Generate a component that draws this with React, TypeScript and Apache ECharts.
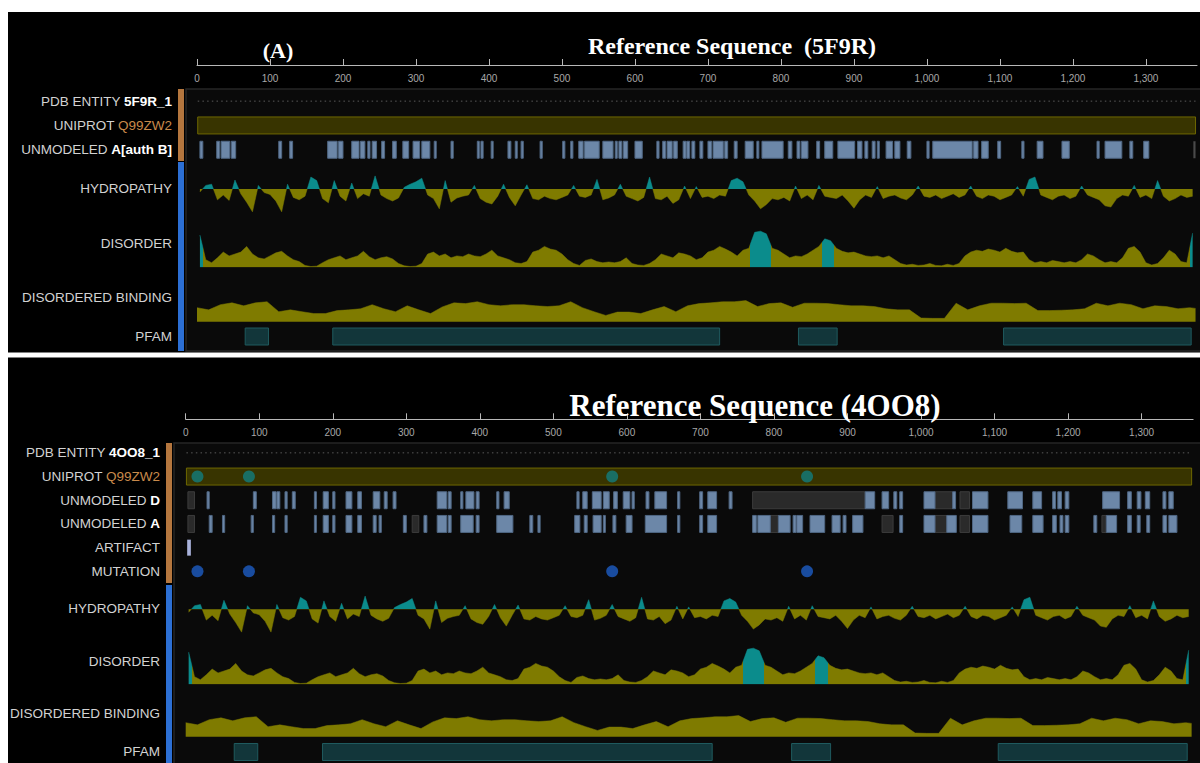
import React, { useEffect, useRef } from "react";
import * as echarts from "echarts";

// ---------------- data ----------------
const SEQ_LEN = 1368;
const AXIS_MAX = 1370;
const TICK_STEP = 100;

const hydropathyStep = 8;
const hydropathy = [
  -0.5, 0.6, 0.8, -1.8, -1.0, -1.9, 1.5, -0.8, -2.2, -3.8,
  0.6, -0.6, -0.9, -2.0, -3.8, 0.8, -1.4, -1.8, -1.2, 2.0,
  1.4, -1.6, -2.3, 1.4, -1.2, -2.0, 1.0, -1.6, -0.8, -1.2,
  2.2, -1.0, -1.6, -2.0, -1.5, 0.3, 0.8, 1.2, 1.8, -1.0,
  -1.6, -3.3, 1.4, -2.2, -1.5, -1.2, -1.0, 0.6, -1.6, -2.2,
  -2.5, -1.2, 0.8, -1.4, -2.8, -1.0, 0.7, -1.6, -1.8, -1.2,
  -1.6, -1.8, -1.4, -1.0, 0.6, -1.2, -1.4, -1.0, 1.6, -1.8,
  -1.5, -1.0, 0.8, -1.2, -1.6, -2.0, -1.4, 2.0, -1.6, -1.8,
  -1.2, -2.4, -1.8, 0.5, -1.6, 0.4, -1.4, -1.2, -1.6, -1.0,
  -1.2, 1.4, 1.8, 1.2, -1.0, -2.0, -3.3, -2.6, -1.6, -1.8,
  -1.4, -2.0, 0.5, -1.6, -1.0, -1.8, 0.6, -1.2, -1.4, -1.6,
  -1.0, -2.0, -3.2, -1.8, -1.0, -1.4, 0.4, -1.6, -1.2, -1.0,
  -1.5, -1.8, -1.0, 0.5, -1.2, -1.4, -1.0, -1.6, -1.2, -0.8,
  -1.4, -1.0, 0.5, -1.2, -1.6, -1.0, -1.2, -1.8, -1.4, -1.0,
  0.4, -1.2, 1.6, 2.0, -1.0, -1.4, -1.8, -1.2, -1.0, -1.6,
  -1.2, 0.5, -1.0, -1.4, -1.8, -2.8, -3.0, -1.6, -1.0, -1.2,
  0.6, -1.4, -1.0, -1.6, 1.4, -1.2, -2.0, -1.6, -1.0, -1.4,
  -1.2,
];

const disorderStep = 8;
const disorder = [
  0.85, 0.2, 0.12, 0.25, 0.4, 0.3, 0.35, 0.4, 0.55, 0.35,
  0.25, 0.22, 0.3, 0.38, 0.42, 0.3, 0.2, 0.15, 0.05, 0.02,
  0.03, 0.12, 0.2, 0.25, 0.3, 0.2, 0.25, 0.3, 0.42, 0.28,
  0.2, 0.25, 0.28, 0.22, 0.1, 0.04, 0.02, 0.03, 0.1, 0.35,
  0.4, 0.3, 0.35, 0.25, 0.3, 0.28, 0.35, 0.3, 0.28, 0.35,
  0.45, 0.3, 0.25, 0.2, 0.12, 0.1, 0.15, 0.4, 0.45, 0.55,
  0.48, 0.45, 0.35, 0.2, 0.1, 0.05, 0.18, 0.22, 0.15, 0.12,
  0.14, 0.12, 0.15, 0.25, 0.1, 0.06, 0.05, 0.1, 0.2, 0.35,
  0.3, 0.25, 0.38, 0.35, 0.3, 0.2, 0.25, 0.4, 0.45, 0.55,
  0.48, 0.4, 0.3, 0.45, 0.5, 0.92, 0.95, 0.88, 0.5, 0.45,
  0.35, 0.25, 0.3, 0.28, 0.35, 0.45, 0.55, 0.75, 0.7, 0.5,
  0.42, 0.38, 0.4, 0.35, 0.3, 0.28, 0.3, 0.25, 0.3, 0.2,
  0.1, 0.06, 0.08, 0.05, 0.06, 0.1, 0.05, 0.04, 0.08, 0.05,
  0.1, 0.3, 0.4, 0.45, 0.42, 0.48, 0.45, 0.4, 0.5, 0.42,
  0.38, 0.4, 0.2, 0.12, 0.15, 0.12, 0.18, 0.15, 0.12, 0.15,
  0.12, 0.2, 0.35, 0.3, 0.2, 0.12, 0.15, 0.12, 0.25, 0.5,
  0.55, 0.4, 0.12, 0.06, 0.1, 0.25, 0.45, 0.35, 0.15, 0.12,
  0.9,
];

const bindingStep = 16;
const disorderedBinding = [
  0.38, 0.32, 0.46, 0.51, 0.43, 0.51, 0.54, 0.27, 0.32, 0.27,
  0.22, 0.22, 0.3, 0.32, 0.35, 0.46, 0.35, 0.27, 0.43, 0.32,
  0.22, 0.4, 0.51, 0.49, 0.54, 0.46, 0.43, 0.46, 0.46, 0.43,
  0.41, 0.43, 0.54, 0.38, 0.27, 0.17, 0.26, 0.26, 0.22, 0.32,
  0.41, 0.27, 0.43, 0.49, 0.51, 0.54, 0.54, 0.57, 0.41, 0.49,
  0.51, 0.39, 0.5, 0.5, 0.49, 0.46, 0.43, 0.43, 0.41, 0.35,
  0.32, 0.32, 0.1, 0.09, 0.09, 0.5, 0.32, 0.43, 0.5, 0.5,
  0.49, 0.5, 0.3, 0.3, 0.31, 0.32, 0.35, 0.5, 0.43, 0.5,
  0.46, 0.35, 0.43, 0.41, 0.35, 0.38, 0.36,
];

const disorderedRanges = [[0, 8], [758, 786], [856, 873], [1361, 1368]];
const pfamDomains = [[66, 98], [186, 716], [824, 877], [1105, 1362]];
const uniprotSpan = [[1, 1368]];
const pdbSpan = [1, 1368];

const unmodeled5F9R = [
  [4, 8], [27, 31], [33, 45], [47, 53], [112, 116], [127, 131], [179, 192], [194, 200],
  [212, 222], [224, 230], [234, 237], [240, 246], [253, 257], [268, 273], [282, 290],
  [296, 305], [308, 319], [325, 327], [348, 351], [384, 386], [389, 392], [403, 405],
  [426, 430], [436, 438], [444, 447], [470, 473], [501, 504], [512, 515], [523, 529],
  [531, 551], [556, 570], [573, 575], [578, 582], [584, 590], [600, 610], [630, 633],
  [638, 642], [644, 651], [653, 658], [666, 670], [671, 675], [678, 682], [689, 693],
  [700, 705], [707, 721], [723, 727], [736, 740], [751, 762], [767, 768], [774, 803],
  [810, 815], [822, 826], [828, 837], [849, 853], [860, 871], [878, 901], [905, 911],
  [915, 919], [925, 929], [932, 934], [944, 953], [956, 963], [973, 978], [1000, 1003],
  [1008, 1062], [1064, 1070], [1075, 1084], [1097, 1101], [1130, 1133], [1151, 1159],
  [1185, 1195], [1233, 1236], [1244, 1267], [1278, 1282], [1297, 1304],
];
const unmodeled5F9RFaint = [[1365, 1368]];

const unmodeled4OO8D = [
  [29, 32], [92, 96], [118, 123], [124, 128], [135, 138], [145, 149], [175, 177],
  [187, 194], [200, 203], [218, 226], [234, 239], [255, 264], [270, 274], [282, 286],
  [342, 355], [357, 361], [374, 377], [381, 392], [395, 399], [423, 426], [433, 440],
  [532, 535], [540, 546], [553, 565], [568, 576], [582, 587], [595, 604], [607, 610],
  [626, 630], [638, 654], [669, 672], [699, 703], [710, 722], [739, 743], [924, 937],
  [947, 956], [963, 967], [971, 975], [1004, 1019], [1043, 1047], [1070, 1091],
  [1118, 1138], [1152, 1164], [1179, 1183], [1186, 1191], [1196, 1201], [1247, 1270],
  [1281, 1286], [1294, 1299], [1305, 1311], [1329, 1333], [1337, 1343],
];
const unmodeled4OO8DFaint = [[3, 12], [771, 924], [1019, 1043], [1053, 1066]];

const unmodeled4OO8A = [
  [32, 36], [50, 53], [89, 92], [118, 121], [135, 138], [175, 177], [187, 194],
  [200, 203], [218, 226], [234, 239], [255, 259], [263, 266], [296, 300], [324, 328],
  [342, 355], [357, 361], [374, 391], [395, 399], [423, 445], [468, 472], [479, 482],
  [529, 536], [542, 546], [554, 565], [568, 570], [581, 585], [599, 607], [625, 654],
  [669, 672], [699, 703], [710, 722], [771, 776], [778, 795], [806, 822], [826, 830],
  [831, 839], [849, 869], [879, 890], [894, 898], [907, 921], [971, 975], [1004, 1019],
  [1035, 1048], [1070, 1091], [1121, 1137], [1152, 1166], [1179, 1184], [1189, 1193],
  [1196, 1201], [1235, 1239], [1252, 1266], [1281, 1286], [1294, 1298], [1307, 1311],
  [1329, 1334], [1337, 1348],
];
const unmodeled4OO8AFaint = [[3, 12], [308, 317], [795, 806], [947, 962], [1019, 1035], [1053, 1066], [1246, 1252]];

const artifact4OO8 = [[2, 7]];
const mutations4OO8 = [16, 86, 580, 845];

// ---------------- styles ----------------
const OLIVE = "#7f7b00";
const TEAL = "#0b8c8c";
const UNMOD = "#6c87a8";
const UNMOD_STROKE = "#4f6682";
const FAINT = "#2a2a2a";
const FAINT_STROKE = "#3c3c3c";
const UNIPROT_FILL = "#383400";
const UNIPROT_STROKE = "#6e6700";
const PFAM_FILL = "#12363a";
const PFAM_STROKE = "#1f5a5e";
const SANS = "'Liberation Sans', Arial, sans-serif";
const SERIF = "'Liberation Serif', 'Times New Roman', serif";

type Part = [string, string];
type Item =
  | { type: "dots" }
  | { type: "ranges"; ranges: number[][]; fill: string; stroke?: string; h: number }
  | { type: "circles"; pos: number[]; color: string; size: number };
type Row = { label: Part[]; items: Item[] };

const panels = [
  {
    bg: { y: 12, h: 340.5 },
    track: { x: 186, y: 89, h: 262 },
    bars: { x: 178, orangeY: 89, orangeH: 72, blueY: 162, blueH: 189 },
    titles: [
      { text: "(A)", x: 278, y: 50, size: 22 },
      { text: "Reference Sequence  (5F9R)", x: 732, y: 46, size: 24 },
    ],
    left: 197,
    width: 1000,
    labelX: 172,
    rulerY: 65,
    featTop: 89,
    rowH: 24.3,
    rows: [
      { label: [["PDB ENTITY ", "n"], ["5F9R_1", "b"]], items: [{ type: "dots" }] },
      {
        label: [["UNIPROT ", "n"], ["Q99ZW2", "o"]],
        items: [{ type: "ranges", ranges: uniprotSpan, fill: UNIPROT_FILL, stroke: UNIPROT_STROKE, h: 17 }],
      },
      {
        label: [["UNMODELED ", "n"], ["A[auth B]", "b"]],
        items: [
          { type: "ranges", ranges: unmodeled5F9R, fill: UNMOD, stroke: UNMOD_STROKE, h: 17 },
          { type: "ranges", ranges: unmodeled5F9RFaint, fill: "#4a4a4a", h: 17 },
        ],
      },
    ] as Row[],
    hydro: { top: 175.8, labelY: 188 },
    dis: { top: 229.3, labelY: 243 },
    bind: { top: 284.7, labelY: 297 },
    pfam: { y: 336.5, labelY: 336 },
  },
  {
    bg: { y: 357.5, h: 406 },
    track: { x: 174, y: 443, h: 330 },
    bars: { x: 166, orangeY: 443, orangeH: 140, blueY: 585, blueH: 180 },
    titles: [{ text: "Reference Sequence (4OO8)", x: 755, y: 405, size: 31 }],
    left: 185.7,
    width: 1007.4,
    labelX: 160,
    rulerY: 419.3,
    featTop: 441,
    rowH: 23.7,
    rows: [
      { label: [["PDB ENTITY ", "n"], ["4OO8_1", "b"]], items: [{ type: "dots" }] },
      {
        label: [["UNIPROT ", "n"], ["Q99ZW2", "o"]],
        items: [
          { type: "ranges", ranges: uniprotSpan, fill: UNIPROT_FILL, stroke: UNIPROT_STROKE, h: 17 },
          { type: "circles", pos: mutations4OO8, color: "#117d7d", size: 12 },
        ],
      },
      {
        label: [["UNMODELED ", "n"], ["D", "b"]],
        items: [
          { type: "ranges", ranges: unmodeled4OO8DFaint, fill: FAINT, stroke: FAINT_STROKE, h: 17 },
          { type: "ranges", ranges: unmodeled4OO8D, fill: UNMOD, stroke: UNMOD_STROKE, h: 17 },
        ],
      },
      {
        label: [["UNMODELED ", "n"], ["A", "b"]],
        items: [
          { type: "ranges", ranges: unmodeled4OO8AFaint, fill: FAINT, stroke: FAINT_STROKE, h: 17 },
          { type: "ranges", ranges: unmodeled4OO8A, fill: UNMOD, stroke: UNMOD_STROKE, h: 17 },
        ],
      },
      {
        label: [["ARTIFACT", "n"]],
        items: [{ type: "ranges", ranges: artifact4OO8, fill: "#aab3dc", h: 16 }],
      },
      {
        label: [["MUTATION", "n"]],
        items: [{ type: "circles", pos: mutations4OO8, color: "#1d5cc4", size: 12 }],
      },
    ] as Row[],
    hydro: { top: 596.1, labelY: 608 },
    dis: { top: 646.3, labelY: 661 },
    bind: { top: 699.7, labelY: 713 },
    pfam: { y: 752, labelY: 751 },
  },
];

const rich = {
  n: { fill: "#d2d2d2", fontSize: 13.5, fontFamily: SANS },
  b: { fill: "#ffffff", fontSize: 13.5, fontFamily: SANS, fontWeight: "bold" },
  o: { fill: "#c98a4b", fontSize: 13.5, fontFamily: SANS },
};

function points(values: number[], step: number, offset: number) {
  return values.map((v, i) => [Math.min(i * step + offset, SEQ_LEN), v]);
}

function buildOption() {
  const grid: any[] = [];
  const xAxis: any[] = [];
  const yAxis: any[] = [];
  const series: any[] = [];
  const graphic: any[] = [];
  const hydroIdx: number[] = [];
  const disIdx: number[] = [];

  const addGrid = (p: any, top: number, height: number, yMin: number, yMax: number, inverse = false) => {
    const gi = grid.length;
    grid.push({ left: p.left, width: p.width, top, height, containLabel: false, outerBoundsMode: "none" });
    xAxis.push({ gridIndex: gi, type: "value", min: 0, max: AXIS_MAX, show: false });
    yAxis.push({ gridIndex: gi, type: "value", min: yMin, max: yMax, inverse, show: false });
    return gi;
  };

  const rangeSeries = (gi: number, ranges: number[][], row: number, fill: string, stroke: string | undefined, h: number) => ({
    type: "custom",
    coordinateSystem: "cartesian2d",
    xAxisIndex: gi,
    yAxisIndex: gi,
    silent: true,
    z: 3,
    data: ranges.map((r) => [r[0], r[1], row]),
    encode: { x: [0, 1], y: 2 },
    renderItem: (_params: any, api: any) => {
      const a = api.coord([api.value(0), api.value(2)]);
      const b = api.coord([api.value(1), api.value(2)]);
      return {
        type: "rect",
        shape: { x: a[0], y: a[1] - h / 2, width: Math.max(b[0] - a[0], 2), height: h },
        style: { fill, stroke: stroke || null, lineWidth: stroke ? 1 : 0 },
      };
    },
  });

  const label = (x: number, y: number, parts: Part[]) => ({
    type: "text",
    x,
    y,
    z: 100,
    style: {
      text: parts.map(([t, s]) => `{${s}|${t}}`).join(""),
      rich,
      align: "right",
      verticalAlign: "middle",
    },
  });

  panels.forEach((p) => {
    graphic.push({ type: "rect", z: -20, shape: { x: 8, y: p.bg.y, width: 1192, height: p.bg.h }, style: { fill: "#000" } });
    graphic.push({
      type: "rect",
      z: -19,
      shape: { x: p.track.x, y: p.track.y, width: 1200 - p.track.x + 2, height: p.track.h },
      style: { fill: "#0a0a0a", stroke: "#262626", lineWidth: 1.5 },
    });
    graphic.push({ type: "rect", z: -18, shape: { x: p.bars.x, y: p.bars.orangeY, width: 6, height: p.bars.orangeH }, style: { fill: "#b4763e" } });
    graphic.push({ type: "rect", z: -18, shape: { x: p.bars.x, y: p.bars.blueY, width: 6, height: p.bars.blueH }, style: { fill: "#2c6fd4" } });
    p.titles.forEach((t) =>
      graphic.push({
        type: "text",
        x: t.x,
        y: t.y,
        z: 100,
        style: {
          text: t.text,
          fill: "#ffffff",
          font: `bold ${t.size}px ${SERIF}`,
          align: "center",
          verticalAlign: "middle",
        },
      })
    );

    // ruler
    const gR = grid.length;
    grid.push({ left: p.left, width: p.width, top: p.rulerY, height: 20, containLabel: false, outerBoundsMode: "none" });
    xAxis.push({
      gridIndex: gR,
      type: "value",
      position: "top",
      min: 0,
      max: AXIS_MAX,
      interval: TICK_STEP,
      splitLine: { show: false },
      axisLine: { show: true, onZero: false, lineStyle: { color: "#b8b8b8", width: 1 } },
      axisTick: { show: true, length: 6, lineStyle: { color: "#b8b8b8", width: 1 } },
      axisLabel: {
        inside: true,
        margin: 8,
        color: "#a8a8a8",
        fontSize: 10,
        fontFamily: SANS,
        showMaxLabel: false,
        formatter: (v: number) => v.toLocaleString("en-US"),
      },
    });
    yAxis.push({ gridIndex: gR, type: "value", min: 0, max: 1, show: false });

    // feature rows
    const nRows = p.rows.length;
    const gF = addGrid(p, p.featTop, p.rowH * nRows, -0.5, nRows - 0.5, true);
    p.rows.forEach((row, ri) => {
      graphic.push(label(p.labelX, p.featTop + p.rowH * (ri + 0.5), row.label));
      row.items.forEach((it) => {
        if (it.type === "dots") {
          series.push({
            type: "line",
            xAxisIndex: gF,
            yAxisIndex: gF,
            silent: true,
            symbol: "none",
            data: [[pdbSpan[0], ri], [pdbSpan[1], ri]],
            lineStyle: { color: "#5a5a5a", width: 1, type: [1.5, 3.2] },
          });
        } else if (it.type === "ranges") {
          series.push(rangeSeries(gF, it.ranges, ri, it.fill, it.stroke, it.h));
        } else {
          series.push({
            type: "scatter",
            xAxisIndex: gF,
            yAxisIndex: gF,
            silent: true,
            z: 5,
            symbolSize: it.size,
            itemStyle: { color: it.color },
            data: it.pos.map((m) => [m, ri]),
          });
        }
      });
    });

    // hydropathy
    const gH = addGrid(p, p.hydro.top, 38.4, -4.2, 2.2);
    graphic.push(label(p.labelX, p.hydro.labelY, [["HYDROPATHY", "n"]]));
    hydroIdx.push(series.length);
    series.push({
      type: "line",
      xAxisIndex: gH,
      yAxisIndex: gH,
      silent: true,
      symbol: "none",
      data: points(hydropathy, hydropathyStep, 4),
      lineStyle: { width: 0.5 },
      areaStyle: { opacity: 1 },
    });

    // disorder
    const gD = addGrid(p, p.dis.top, 38, 0, 1);
    graphic.push(label(p.labelX, p.dis.labelY, [["DISORDER", "n"]]));
    disIdx.push(series.length);
    series.push({
      type: "line",
      xAxisIndex: gD,
      yAxisIndex: gD,
      silent: true,
      symbol: "none",
      data: points(disorder, disorderStep, 4),
      lineStyle: { width: 0.5 },
      areaStyle: { opacity: 1 },
    });

    // disordered binding
    const gB = addGrid(p, p.bind.top, 37, 0, 1);
    graphic.push(label(p.labelX, p.bind.labelY, [["DISORDERED BINDING", "n"]]));
    series.push({
      type: "line",
      xAxisIndex: gB,
      yAxisIndex: gB,
      silent: true,
      symbol: "none",
      data: points(disorderedBinding, bindingStep, 0),
      itemStyle: { color: OLIVE },
      lineStyle: { width: 0.5, color: OLIVE },
      areaStyle: { opacity: 1, color: OLIVE },
    });

    // pfam
    const gP = addGrid(p, p.pfam.y - 10, 20, 0, 1);
    graphic.push(label(p.labelX, p.pfam.labelY, [["PFAM", "n"]]));
    series.push(rangeSeries(gP, pfamDomains, 0.5, PFAM_FILL, PFAM_STROKE, 17));
  });

  const visualMap = [
    {
      type: "piecewise",
      show: false,
      seriesIndex: hydroIdx,
      dimension: 1,
      pieces: [
        { gte: -10, lte: 0, color: OLIVE },
        { gt: 0, lte: 10, color: TEAL },
      ],
      outOfRange: { color: OLIVE },
    },
    {
      type: "piecewise",
      show: false,
      seriesIndex: disIdx,
      dimension: 0,
      pieces: disorderedRanges.map(([s, e]) => ({ gte: s, lte: e, color: TEAL })),
      outOfRange: { color: OLIVE },
    },
  ];

  return {
    animation: false,
    backgroundColor: "#ffffff",
    grid,
    xAxis,
    yAxis,
    series,
    visualMap,
    graphic: { elements: graphic },
  };
}

export default function App() {
  const ref = useRef<HTMLDivElement>(null);
  useEffect(() => {
    if (!ref.current) return;
    const chart = echarts.init(ref.current, undefined, { renderer: "svg" });
    chart.setOption(buildOption() as any);
    return () => chart.dispose();
  }, []);
  return (
    <div
      ref={ref}
      style={{ position: "absolute", left: 0, top: 0, width: 1200, height: 763 }}
    />
  );
}
